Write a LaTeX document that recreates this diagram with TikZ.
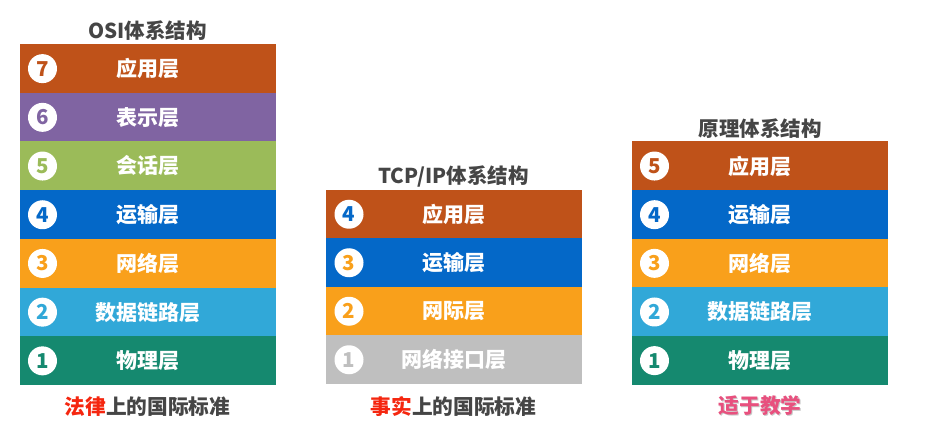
\documentclass[tikz,border=0pt]{standalone}
\usepackage{fontspec}
\setmainfont{Noto Sans CJK SC}
\definecolor{cBrown}{HTML}{BF5219}
\definecolor{cPurple}{HTML}{8064A2}
\definecolor{cGreen}{HTML}{9BBB59}
\definecolor{cBlue}{HTML}{0468C8}
\definecolor{cOrange}{HTML}{F9A01B}
\definecolor{cCyan}{HTML}{31A8D8}
\definecolor{cTeal}{HTML}{15896F}
\definecolor{cGray}{HTML}{BFBFBF}
\definecolor{cTitle}{HTML}{454545}
\definecolor{cRed}{HTML}{F5260F}
\definecolor{cPink}{HTML}{E8507E}
\tikzset{
  layer/.style={rectangle, minimum width=256pt, minimum height=49.2pt, inner sep=0pt,
    text=white, font=\bfseries\fontsize{21}{21}\selectfont},
  num/.style={circle, fill=white, minimum size=29pt, inner sep=0pt,
    font=\bfseries\fontsize{20.5}{21}\selectfont},
  title/.style={text=cTitle, font=\bfseries\fontsize{20.5}{21}\selectfont, inner sep=0pt},
  foot/.style={text=cTitle, font=\bfseries\fontsize{20.7}{21}\selectfont, inner sep=0pt}
}
\begin{document}
\begin{tikzpicture}[x=1pt,y=-1pt]
\useasboundingbox (0,0) rectangle (939,438);
\fill[white] (0,0) rectangle (939,438);
% OSI
\node[title] (osititle) at (147.5,30.5) {OSI体系结构};
\foreach \d/\t/\c [count=\i from 0] in {7/应用层/cBrown,6/表示层/cPurple,5/会话层/cGreen,4/运输层/cBlue,3/网络层/cOrange,2/数据链路层/cCyan,1/物理层/cTeal}{
  \node[layer, fill=\c] (osi\d) at (147.5,{44.3+48.7*\i+24.35}) {\t};
  \node[num, text=\c] (osin\d) at (42.5,{44.3+48.7*\i+24.35}) {\d};
}
\node[foot] (osifoot) at (147.5,406.5) {\textcolor{cRed}{法律}上的国际标准};
% TCP/IP
\node[title] (tcptitle) at (453.5,176.5) {TCP/IP体系结构};
\foreach \d/\t/\c/\e [count=\i from 0] in {4/应用层/cBrown/cBlue,3/运输层/cBlue/cOrange,2/网际层/cOrange/cOrange,1/网络接口层/cGray/cGray}{
  \node[layer, fill=\c] (tcp\d) at (453.5,{190+48.5*\i+24.25}) {\t};
  \node[num, text=\e] (tcpn\d) at (349,{190+48.5*\i+24.25}) {\d};
}
\node[foot] (tcpfoot) at (453.5,406.5) {\textcolor{cRed}{事实}上的国际标准};
% Principle
\node[title] (prititle) at (760,128.3) {原理体系结构};
\foreach \d/\t/\c [count=\i from 0] in {5/应用层/cBrown,4/运输层/cBlue,3/网络层/cOrange,2/数据链路层/cCyan,1/物理层/cTeal}{
  \node[layer, fill=\c] (pri\d) at (760,{141.7+48.65*\i+24.33}) {\t};
  \node[num, text=\c] (prin\d) at (654.5,{141.7+48.65*\i+24.33}) {\d};
}
\node[foot, text=black!22] (prishadow) at (761.2,406.7) {适于教学};
\node[foot, text=cPink] (prifoot) at (760,405.5) {适于教学};
\end{tikzpicture}
\end{document}
